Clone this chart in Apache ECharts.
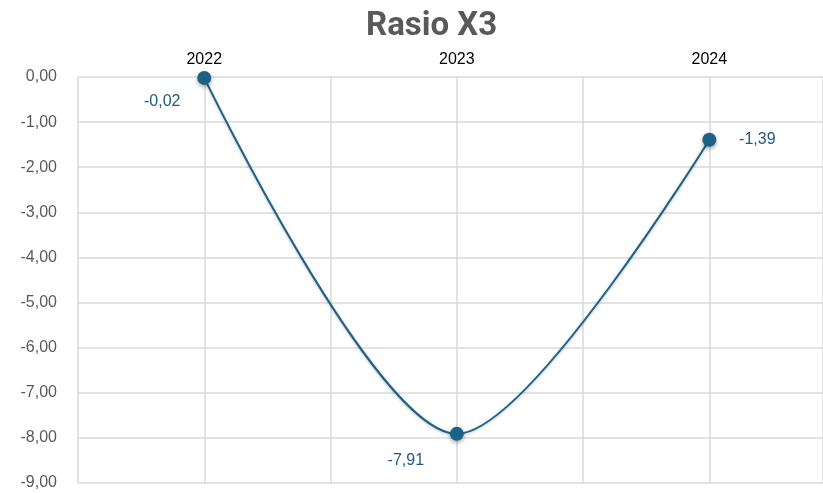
<!DOCTYPE html>
<html>
<head>
<meta charset="utf-8">
<script src="https://cdn.jsdelivr.net/npm/echarts@6/dist/echarts.min.js"></script>
<style>html,body{margin:0;padding:0;background:#fff;}#c{width:823px;height:493px;}</style>
</head>
<body>
<div id="c"></div>
<script>
var categories = ['2022', '2023', '2024'];
var values = [-0.02, -7.91, -1.39];
var yTicks = [0, -1, -2, -3, -4, -5, -6, -7, -8, -9];

function fmt(v) { return v.toFixed(2).replace('.', ','); }

var chart = echarts.init(document.getElementById('c'));
var labelOffsets = [[-42, 24], [-51, 27], [48, 0]];
var data = values.map(function (v, i) {
  return {
    value: [i, v],
    label: { offset: labelOffsets[i] }
  };
});

chart.setOption({
  animation: false,
  title: {
    text: 'Rasio X3',
    left: 361,
    top: 5,
    textStyle: { fontFamily: 'Roboto, sans-serif', fontWeight: 'bold', fontSize: 33, color: '#595959' }
  },
  grid: { left: 78, top: 77, right: 0, bottom: 10, containLabel: false },
  xAxis: {
    type: 'value',
    position: 'top',
    min: -0.5, max: 2.45, interval: 0.5,
    axisLine: { show: false },
    axisTick: { show: false },
    splitLine: { show: true, lineStyle: { color: '#d9d9d9', width: 1.5 } },
    axisLabel: {
      margin: 9,
      fontSize: 16, color: '#000', fontFamily: 'Liberation Sans, Arial, sans-serif',
      showMinLabel: false, showMaxLabel: false,
      formatter: function (v) { return Number.isInteger(v) && categories[v] !== undefined ? categories[v] : ''; }
    }
  },
  yAxis: {
    type: 'value',
    min: yTicks[yTicks.length - 1], max: yTicks[0], interval: 1,
    axisLine: { show: false },
    axisTick: { show: false },
    splitLine: { show: true, lineStyle: { color: '#d9d9d9', width: 1.5 } },
    axisLabel: {
      margin: 21,
      fontSize: 16, color: '#595959', fontFamily: 'Liberation Sans, Arial, sans-serif',
      formatter: fmt
    }
  },
  series: [{
    type: 'line',
    data: data,
    smooth: 0.3,
    symbol: 'circle',
    symbolSize: 14,
    lineStyle: { color: '#1c6286', width: 2, shadowBlur: 3, shadowColor: 'rgba(0,0,0,0.25)', shadowOffsetY: 1 },
    itemStyle: { color: '#1c6286', shadowBlur: 4, shadowColor: 'rgba(0,0,0,0.35)', shadowOffsetY: 2 },
    label: {
      show: true,
      position: 'inside',
      fontSize: 16,
      color: '#1f5a7a',
      fontFamily: 'Liberation Sans, Arial, sans-serif',
      formatter: function (p) { return fmt(p.value[1]); }
    },
    emphasis: { disabled: true }
  }]
});
</script>
</body>
</html>
